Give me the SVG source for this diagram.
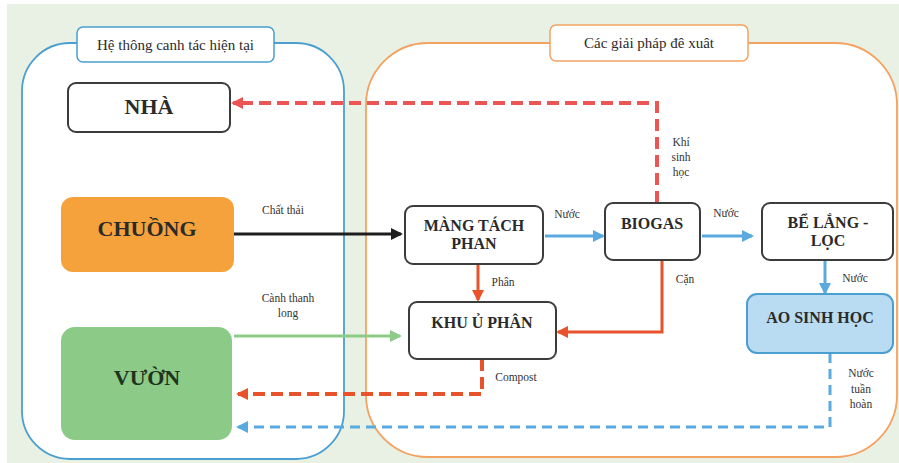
<svg xmlns="http://www.w3.org/2000/svg" width="899" height="463" viewBox="0 0 899 463">
<style>
.title{font-family:"Liberation Serif","DejaVu Serif",serif;font-size:15px;fill:#2b2b2b;text-anchor:middle}
.node{font-family:"Liberation Serif","DejaVu Serif",serif;font-weight:bold;font-size:16px;fill:#2a2a2a;text-anchor:middle}
.big{font-size:22px}
.box{fill:#fff;stroke:#3c3c3c;stroke-width:2}
.lbl{font-family:"Liberation Serif","DejaVu Serif",serif;font-size:11.5px;fill:#333;text-anchor:middle}
.c{fill:none}
</style>
<defs>
<marker id="ah-k" viewBox="0 0 12 12" markerWidth="12" markerHeight="12" refX="10" refY="6" orient="auto" markerUnits="userSpaceOnUse"><path d="M0,0 L12,6 L0,12 z" fill="#1e1e1e"/></marker>
<marker id="ah-g" viewBox="0 0 12 12" markerWidth="12" markerHeight="12" refX="10" refY="6" orient="auto" markerUnits="userSpaceOnUse"><path d="M0,0 L12,6 L0,12 z" fill="#8dcb88"/></marker>
<marker id="ah-b" viewBox="0 0 12 12" markerWidth="12" markerHeight="12" refX="10" refY="6" orient="auto" markerUnits="userSpaceOnUse"><path d="M0,0 L12,6 L0,12 z" fill="#5aaae0"/></marker>
<marker id="ah-r" viewBox="0 0 12 12" markerWidth="12" markerHeight="12" refX="10" refY="6" orient="auto" markerUnits="userSpaceOnUse"><path d="M0,0 L12,6 L0,12 z" fill="#e8532b"/></marker>
<marker id="ah-p" viewBox="0 0 12 12" markerWidth="12" markerHeight="12" refX="10" refY="6" orient="auto" markerUnits="userSpaceOnUse"><path d="M0,0 L12,6 L0,12 z" fill="#ec5553"/></marker>
</defs>
<rect x="7" y="4" width="892" height="459" fill="#e8f1e3"/>
<g id="panel-left">
<rect x="22" y="43" width="322" height="416" rx="48" fill="#fff" stroke="#4a9fd0" stroke-width="1.8"/>
<rect x="77" y="27" width="197" height="35" rx="6" fill="#fff" stroke="#4a9fd0" stroke-width="1.5"/>
<text class="title" x="175.5" y="50">Hệ thông canh tác hiện tại</text>
</g>
<g id="panel-right">
<rect x="366" y="43" width="531" height="414" rx="62" fill="#fff" stroke="#f4a262" stroke-width="1.8"/>
<rect x="550" y="25" width="198" height="36" rx="6" fill="#fff" stroke="#f4a262" stroke-width="1.5"/>
<text class="title" x="649" y="48">Các giải pháp đê xuât</text>
</g>
<g id="connectors">
<path class="c" d="M657,203 V103 H233" stroke="#ec5553" stroke-width="4" stroke-dasharray="12 6" marker-end="url(#ah-p)"/>
<path class="c" d="M234,234 H401" stroke="#1e1e1e" stroke-width="3" marker-end="url(#ah-k)"/>
<path class="c" d="M234,336 H400" stroke="#8dcb88" stroke-width="3" marker-end="url(#ah-g)"/>
<path class="c" d="M545,236 H603" stroke="#5aaae0" stroke-width="3" marker-end="url(#ah-b)"/>
<path class="c" d="M702,236 H752" stroke="#5aaae0" stroke-width="3" marker-end="url(#ah-b)"/>
<path class="c" d="M825,260 V293" stroke="#5aaae0" stroke-width="3" marker-end="url(#ah-b)"/>
<path class="c" d="M478,264 V300" stroke="#e8532b" stroke-width="3" marker-end="url(#ah-r)"/>
<path class="c" d="M662,260 V332 H558" stroke="#e8532b" stroke-width="3" marker-end="url(#ah-r)"/>
<path class="c" d="M482,359 V394 H238" stroke="#e8532b" stroke-width="4" stroke-dasharray="12 6" marker-end="url(#ah-r)"/>
<path class="c" d="M830,353 V427 H238" stroke="#5aaae0" stroke-width="3" stroke-dasharray="10 6" marker-end="url(#ah-b)"/>
<text class="lbl" x="283" y="214">Chất thải</text>
<text class="lbl" x="288" y="302">Cành thanh</text>
<text class="lbl" x="288" y="317">long</text>
<text class="lbl" x="567" y="218">Nước</text>
<text class="lbl" x="726" y="217">Nước</text>
<text class="lbl" x="681" y="146">Khí</text>
<text class="lbl" x="681" y="161">sinh</text>
<text class="lbl" x="681" y="176">học</text>
<text class="lbl" x="503" y="286">Phân</text>
<text class="lbl" x="685" y="283">Cặn</text>
<text class="lbl" x="855" y="282">Nước</text>
<text class="lbl" x="516" y="381">Compost</text>
<text class="lbl" x="861" y="377">Nước</text>
<text class="lbl" x="861" y="393">tuần</text>
<text class="lbl" x="861" y="408">hoàn</text>
</g>
<g id="nha"><rect class="box" x="68" y="83" width="162" height="49" rx="8"/><text class="node big" x="149" y="114">NHÀ</text></g>
<g id="chuong"><rect x="61" y="197" width="173" height="75" rx="12" fill="#f6a23c"/><text class="node big" x="147" y="236">CHUỒNG</text></g>
<g id="vuon"><rect x="61" y="327" width="171" height="113" rx="14" fill="#8ccb87"/><text class="node big" x="147" y="385" style="fill:#1f3320">VƯỜN</text></g>
<g id="mang-tach-phan"><rect class="box" x="405" y="206" width="138" height="58" rx="8"/><text class="node" x="474" y="231">MÀNG TÁCH</text><text class="node" x="474" y="249">PHAN</text></g>
<g id="biogas"><rect class="box" x="605" y="203" width="95" height="57" rx="8"/><text class="node" x="652" y="229">BIOGAS</text></g>
<g id="be-lang-loc"><rect class="box" x="762" y="203" width="131" height="57" rx="8"/><text class="node" x="828" y="228">BỂ LẮNG -</text><text class="node" x="828" y="246">LỌC</text></g>
<g id="ao-sinh-hoc"><rect x="747" y="294" width="146" height="59" rx="10" fill="#b9dcf3" stroke="#4a9fd0" stroke-width="2"/><text class="node" x="820" y="323">AO SINH HỌC</text></g>
<g id="khu-u-phan"><rect class="box" x="409" y="302" width="147" height="57" rx="8"/><text class="node" x="482" y="328">KHU Ủ PHÂN</text></g>
</svg>
